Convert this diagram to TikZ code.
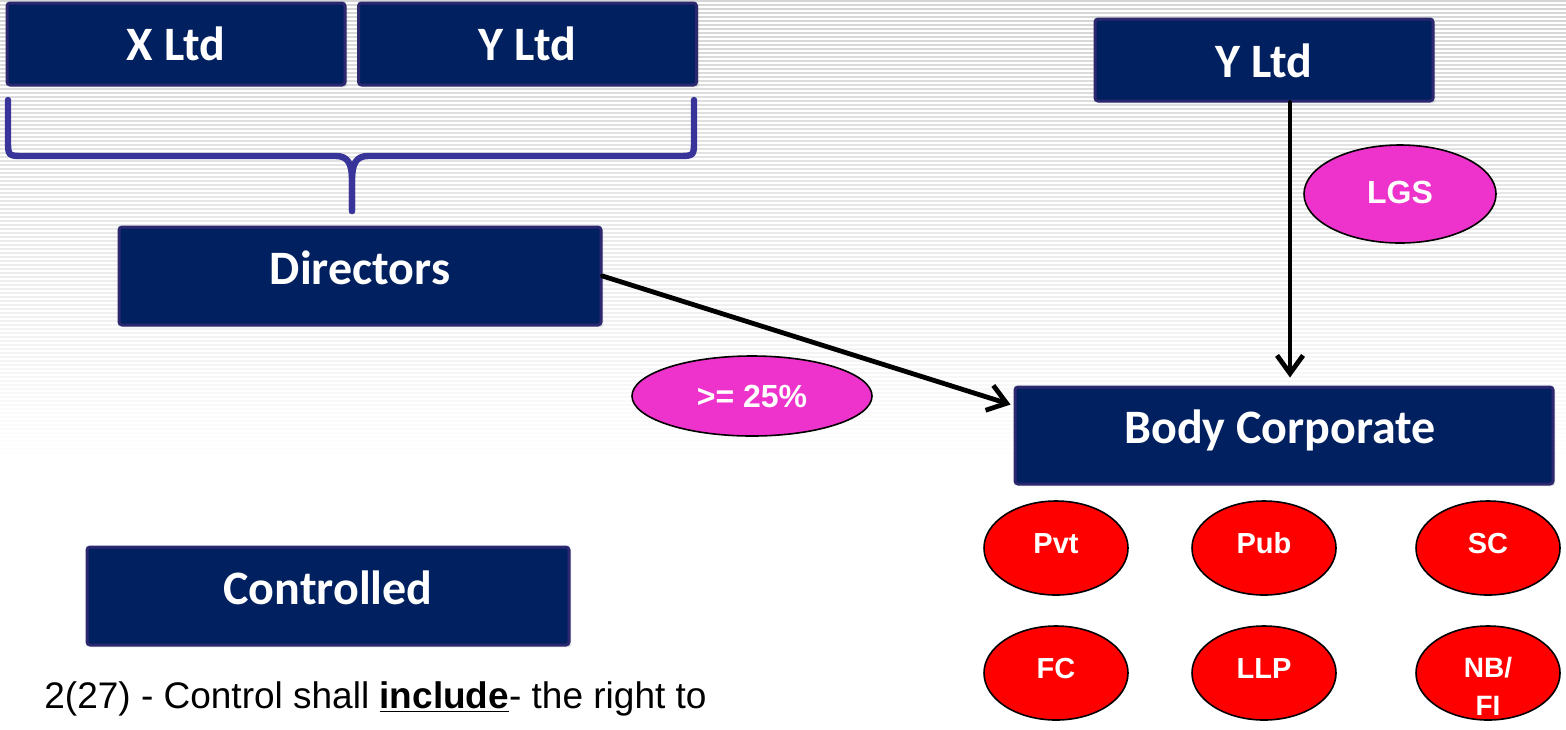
\documentclass[tikz,border=0pt]{standalone}
\usepackage{fontspec}
\setmainfont{Liberation Sans}
\newfontfamily\boxfont{Carlito}
\usetikzlibrary{arrows.meta,shapes.geometric,calc,shadows}

\definecolor{boxfill}{RGB}{0,32,96}
\definecolor{boxedge}{RGB}{43,40,112}
\definecolor{bracecol}{RGB}{56,52,153}
\definecolor{pinkfill}{RGB}{238,51,204}
\definecolor{redfill}{RGB}{255,0,0}
\definecolor{stripe}{RGB}{205,205,205}

\tikzset{
  bx/.style={draw=boxedge, fill=boxfill, line width=1.5pt, rounded corners=1.5pt,
    text=white, inner sep=0pt,
    font=\boxfont\bfseries\fontsize{24}{28}\selectfont,
    drop shadow={opacity=0.18, shadow xshift=1.2pt, shadow yshift=-1.2pt}},
  smallbx/.style={bx, minimum width=169pt, minimum height=41pt,
    text height=16.5pt, text depth=0pt},
  bigbx/.style={bx, minimum height=49pt, text height=16pt, text depth=8pt},
  tag/.style={ellipse, draw=black, line width=0.8pt, fill=pinkfill, text=white,
    inner sep=0pt, font=\bfseries\fontsize{16}{18}\selectfont},
  kind/.style={ellipse, draw=black, line width=0.8pt, fill=redfill, text=white,
    inner sep=0pt, minimum width=72pt, minimum height=47pt,
    text height=10.4pt, text depth=5pt,
    font=\bfseries\fontsize{14.5}{18}\selectfont},
  conn/.style={draw=black, line width=2.4pt, line cap=round,
    -{Straight Barb[length=9pt, width=13pt, line width=2.4pt]}},
  brace/.style={draw=bracecol, line width=3.2pt, line cap=round, line join=round}
}

\begin{document}
\begin{tikzpicture}[x=0.5pt, y=-0.5pt]
\useasboundingbox (0,0) rectangle (1566,729);

% faint striped backdrop, fading out downwards
\foreach \yy in {1,5,...,461}{
  \pgfmathsetmacro\op{max(0,0.85*(1-\yy/470))}
  \draw[stripe, line width=0.7pt, opacity=\op] (0,\yy) -- (1566,\yy);
}

% company boxes
\node[smallbx] (xl) at (176,44) {X Ltd};
\node[smallbx] (yl) at (527.5,44) {Y Ltd};
\node[smallbx, text height=17.5pt] (yr) at (1264,60) {Y Ltd};
\node[bigbx, minimum width=241pt] (dir) at (360,276) {Directors};
\node[bigbx, minimum width=269pt, minimum height=48.5pt] (bc) at (1284,435.5) {\hspace*{-4pt}Body Corporate};
\node[bigbx, minimum width=241pt] (ctl) at (328,596) {Controlled};

% brace joining both companies to the directors
\draw[brace] (8,100) -- (8,140) .. controls (8,156) .. (24,156) -- (336,156)
  .. controls (348,156) and (352,164) .. (352,180) -- (352,211);
\draw[brace] (352,211) -- (352,180) .. controls (352,164) and (356,156) .. (368,156)
  -- (678,156) .. controls (694,156) .. (694,140) -- (694,100);

% ownership arrows
\draw[conn] ($(yr.south)+(26,0)$) -- ($(bc.north)+(6,-8)$);
\draw[conn] (dir.east) -- ($(bc.north west)+(-3,19)$);

% labels on the arrows
\node[tag, minimum width=96pt, minimum height=49pt] (lgs) at (1400,194) {\raisebox{1.5pt}{LGS}};
\node[tag, minimum width=120pt, minimum height=40pt] (pct) at (752,396) {>= 25\%};

% kinds of body corporate
\node[kind] (pvt) at (1056,548) {Pvt};
\node[kind] (pub) at (1264,548) {Pub};
\node[kind] (sc)  at (1488,548) {SC};
\node[kind] (fc)  at (1056,673) {FC};
\node[kind] (llp) at (1264,673) {LLP};
\node[kind, text height=0pt, text depth=0pt] (nbfi) at (1488,673)
  {\raisebox{-21pt}[0pt][0pt]{\fontsize{14}{19}\selectfont\begin{tabular}[b]{@{}c@{}}NB/\\FI\end{tabular}}};

% definition line
\node[anchor=base west, inner sep=0pt, font=\fontsize{18.5}{22}\selectfont] (def) at (44,708)
  {2(27) - Control shall \underline{\textbf{include}}- the right to};
\end{tikzpicture}
\end{document}
